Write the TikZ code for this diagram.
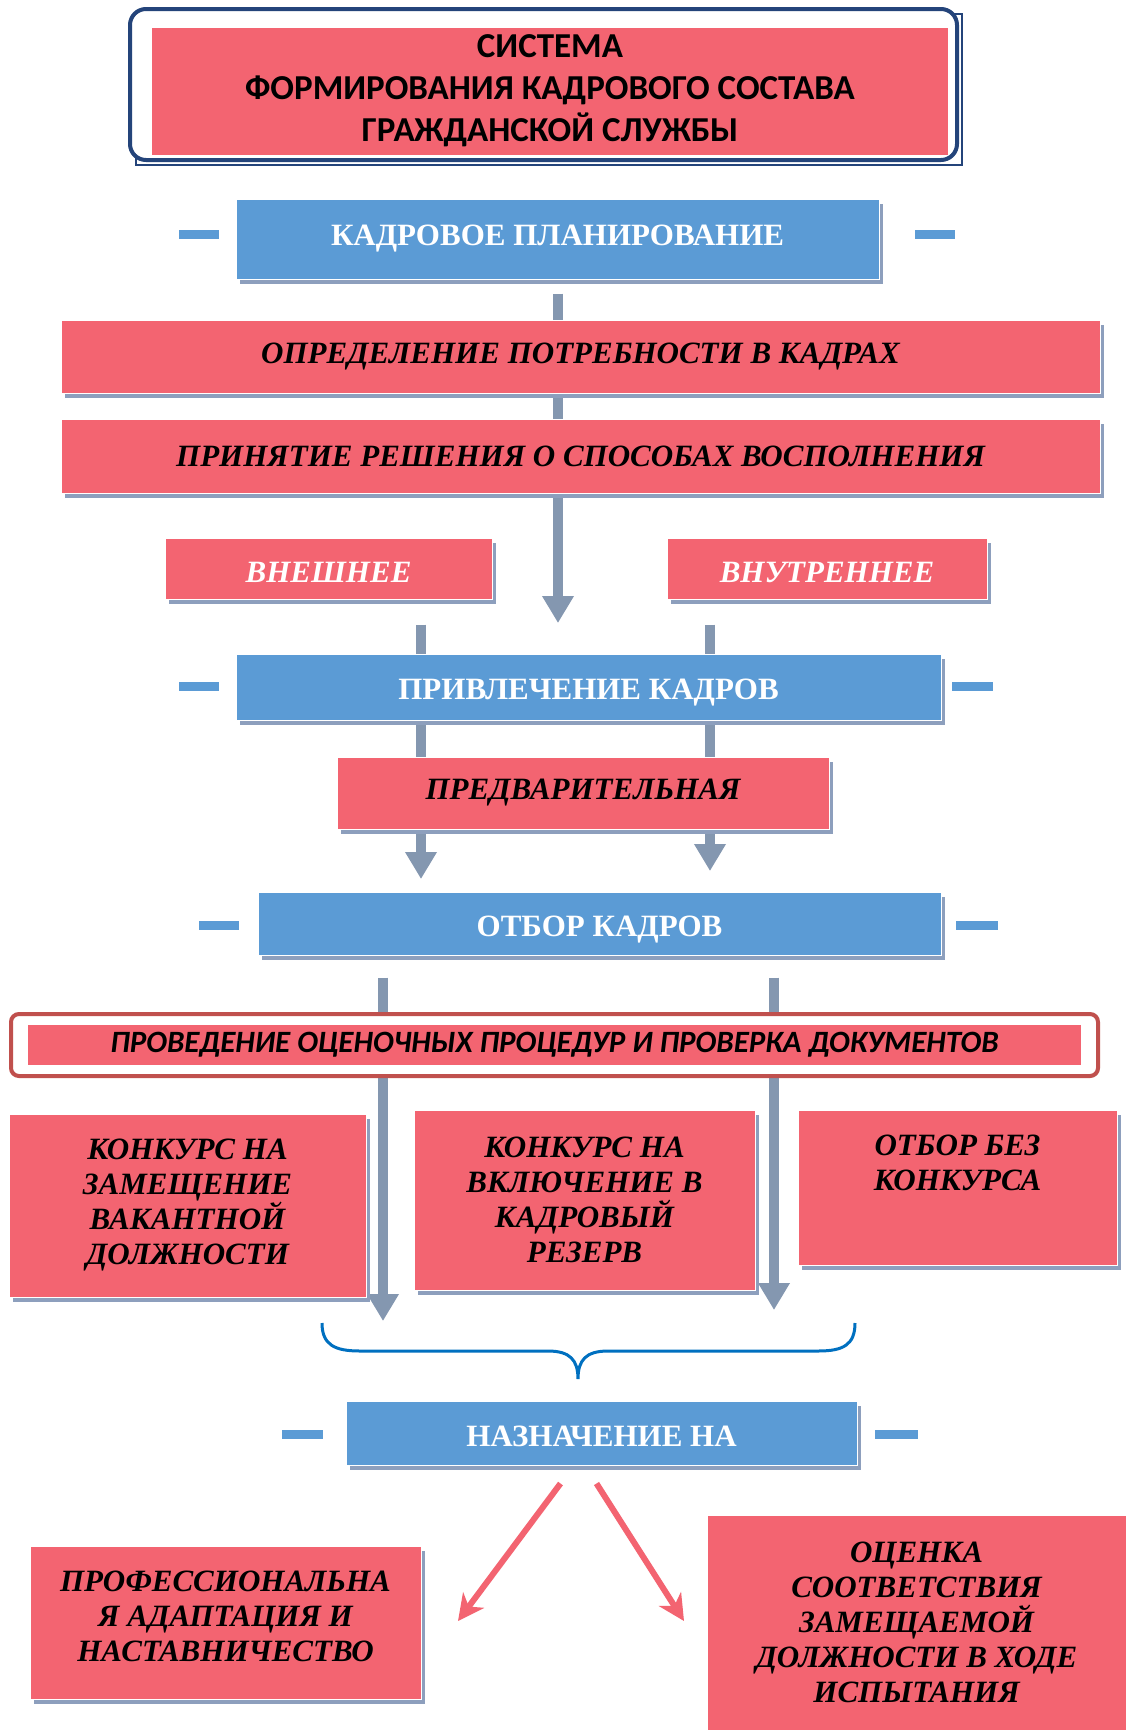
\documentclass[tikz,border=0pt]{standalone}
\usepackage{fontspec}
\setmainfont{Liberation Serif}
\newfontfamily\calfont{Carlito}
\usetikzlibrary{arrows.meta,shadows}
\definecolor{pinkc}{RGB}{243,100,113}
\definecolor{bluec}{RGB}{91,155,213}
\definecolor{shadc}{RGB}{141,159,189}
\definecolor{connc}{RGB}{132,151,176}
\definecolor{navy}{RGB}{36,68,122}
\definecolor{darkred}{RGB}{192,80,77}
\definecolor{bracec}{RGB}{0,112,192}
\pgfdeclarelayer{bg}
\pgfsetlayers{bg,main}
\newcommand{\lowr}[2]{\raisebox{-#1}[\height][\depth]{#2}}
\begin{document}
\begin{tikzpicture}[x=1pt,y=-1pt,
  box/.style={rectangle, draw=white, line width=1pt, inner sep=0pt, align=center,
    drop shadow={shadow xshift=4pt, shadow yshift=-5pt, fill=shadc, opacity=1}},
  pinkbox/.style={box, fill=pinkc, font=\bfseries\itshape\fontsize{31}{35}\selectfont},
  ptext/.style={align=center, inner sep=0pt, font=\bfseries\itshape\fontsize{31}{35}\selectfont},
  bluebox/.style={box, fill=bluec, text=white, font=\bfseries\fontsize{31}{36}\selectfont},
  dashbar/.style={fill=bluec},
  garrow/.style={draw=connc, line width=10pt, -{Triangle[length=27pt,width=30pt]}},
  parrow/.style={draw=pinkc, line width=6pt, -{Stealth[length=26pt,width=26pt,inset=8pt]}}
]
\useasboundingbox (0,0) rectangle (1126,1730);
\begin{pgfonlayer}{bg}
\fill[white] (0,0) rectangle (1126,1730);
\end{pgfonlayer}

% title
\draw[navy, line width=1.2pt] (136,14) rectangle (962,165);
\draw[navy, line width=4pt, rounded corners=16pt, fill=white] (130,9) rectangle (957,160);
\node[rectangle, fill=pinkc, minimum width=796pt, minimum height=127pt, inner sep=0pt, align=center,
  font=\calfont\bfseries\fontsize{35}{42}\selectfont] (title) at (550,91)
  {СИСТЕМА\\ФОРМИРОВАНИЯ КАДРОВОГО СОСТАВА\\ГРАЖДАНСКОЙ СЛУЖБЫ};

% side dashes
\fill[dashbar] (179,229.5) rectangle (219,238.5);
\fill[dashbar] (915,229.5) rectangle (955,238.5);
\fill[dashbar] (179,681.5) rectangle (219,690.5);
\fill[dashbar] (952,681.5) rectangle (993,690.5);
\fill[dashbar] (199,920.5) rectangle (239,929.5);
\fill[dashbar] (956,920.5) rectangle (998,929.5);
\fill[dashbar] (282,1429.5) rectangle (323,1438.5);
\fill[dashbar] (875,1429.5) rectangle (918,1438.5);

\node[bluebox, minimum width=643pt, minimum height=80pt] (kp) at (557.5,239) {КАДРОВОЕ ПЛАНИРОВАНИЕ};
\node[pinkbox, minimum width=1039pt, minimum height=73pt] (opr) at (580.5,356.5) {ОПРЕДЕЛЕНИЕ ПОТРЕБНОСТИ В КАДРАХ};
\node[pinkbox, minimum width=1039pt, minimum height=74pt] (prin) at (580.5,456) {ПРИНЯТИЕ РЕШЕНИЯ О СПОСОБАХ ВОСПОЛНЕНИЯ};
\node[pinkbox, text=white, minimum width=327pt, minimum height=61pt] (vnesh) at (328.5,568.5) {\lowr{4pt}{ВНЕШНЕЕ}};
\node[pinkbox, text=white, minimum width=320pt, minimum height=61pt] (vnutr) at (827,568.5) {\lowr{4pt}{ВНУТРЕННЕЕ}};
\node[bluebox, minimum width=705pt, minimum height=66pt] (priv) at (588.5,687) {\lowr{6pt}{ПРИВЛЕЧЕНИЕ КАДРОВ}};
\node[pinkbox, minimum width=492pt, minimum height=72pt] (pred) at (583,793) {ПРЕДВАРИТЕЛЬНАЯ};
\node[bluebox, minimum width=683pt, minimum height=63pt] (otbor) at (599.5,923.5) {\lowr{6pt}{ОТБОР КАДРОВ}};

\draw[darkred, line width=4pt, rounded corners=8pt, fill=white] (11,1014) rectangle (1098,1076);
\node[rectangle, fill=pinkc, minimum width=1053pt, minimum height=40pt, inner sep=0pt,
  font=\calfont\bfseries\itshape\fontsize{31}{34}\selectfont] (proc) at (554.5,1045)
  {ПРОВЕДЕНИЕ ОЦЕНОЧНЫХ ПРОЦЕДУР И ПРОВЕРКА ДОКУМЕНТОВ};

\node[pinkbox, minimum width=357pt, minimum height=183pt] (k1) at (187.5,1205.5)
  {КОНКУРС НА\\ЗАМЕЩЕНИЕ\\ВАКАНТНОЙ\\ДОЛЖНОСТИ};
\node[pinkbox, minimum width=341pt, minimum height=180pt] (k2) at (584.5,1200)
  {КОНКУРС НА\\ВКЛЮЧЕНИЕ В\\КАДРОВЫЙ\\РЕЗЕРВ};
\node[pinkbox, minimum width=319pt, minimum height=155pt] (k3) at (957.5,1187.5) {};
\node[ptext] (k3t) at (957.5,1163) {ОТБОР БЕЗ\\КОНКУРСА};

% brace
\draw[bracec, line width=3pt] (322,1323) .. controls (322,1345) and (335,1351) .. (360,1351)
  -- (548,1351) .. controls (570,1351) and (578,1360) .. (578,1379)
  .. controls (578,1360) and (586,1351) .. (608,1351)
  -- (818,1351) .. controls (843,1351) and (855,1345) .. (855,1323);

\node[bluebox, minimum width=511pt, minimum height=64pt] (nazn) at (601.5,1433) {\lowr{3pt}{НАЗНАЧЕНИЕ НА}};

\node[pinkbox, minimum width=391pt, minimum height=153pt] (adapt) at (225.5,1622.5) {};
\node[ptext] (adaptt) at (225.5,1616) {ПРОФЕССИОНАЛЬНА\\Я АДАПТАЦИЯ И\\НАСТАВНИЧЕСТВО};
\node[pinkbox, minimum width=419pt, minimum height=215pt] (ocen) at (916.5,1622.5)
  {ОЦЕНКА\\СООТВЕТСТВИЯ\\ЗАМЕЩАЕМОЙ\\ДОЛЖНОСТИ В ХОДЕ\\ИСПЫТАНИЯ};

% connectors
\coordinate (a0) at (558,623);
\coordinate (b1) at (421,879);
\coordinate (b2) at (710,871);
\coordinate (c1) at (383,1321);
\coordinate (c2) at (774,1310);
\coordinate (d1) at (458,1621);
\coordinate (d2) at (684,1621);
\begin{pgfonlayer}{bg}
\draw[garrow] (kp.south -| a0) ++(0,14) -- (a0);
\draw[garrow] (vnesh.south -| b1) ++(0,25) -- (b1);
\draw[garrow] (vnutr.south -| b2) ++(0,25) -- (b2);
\draw[garrow] (otbor.south -| c1) ++(0,22) -- (c1);
\draw[garrow] (otbor.south -| c2) ++(0,22) -- (c2);
\end{pgfonlayer}
\draw[parrow] (nazn.south) ++(-41,18) -- (d1);
\draw[parrow] (nazn.south) ++(-5,18) -- (d2);
\end{tikzpicture}
\end{document}
